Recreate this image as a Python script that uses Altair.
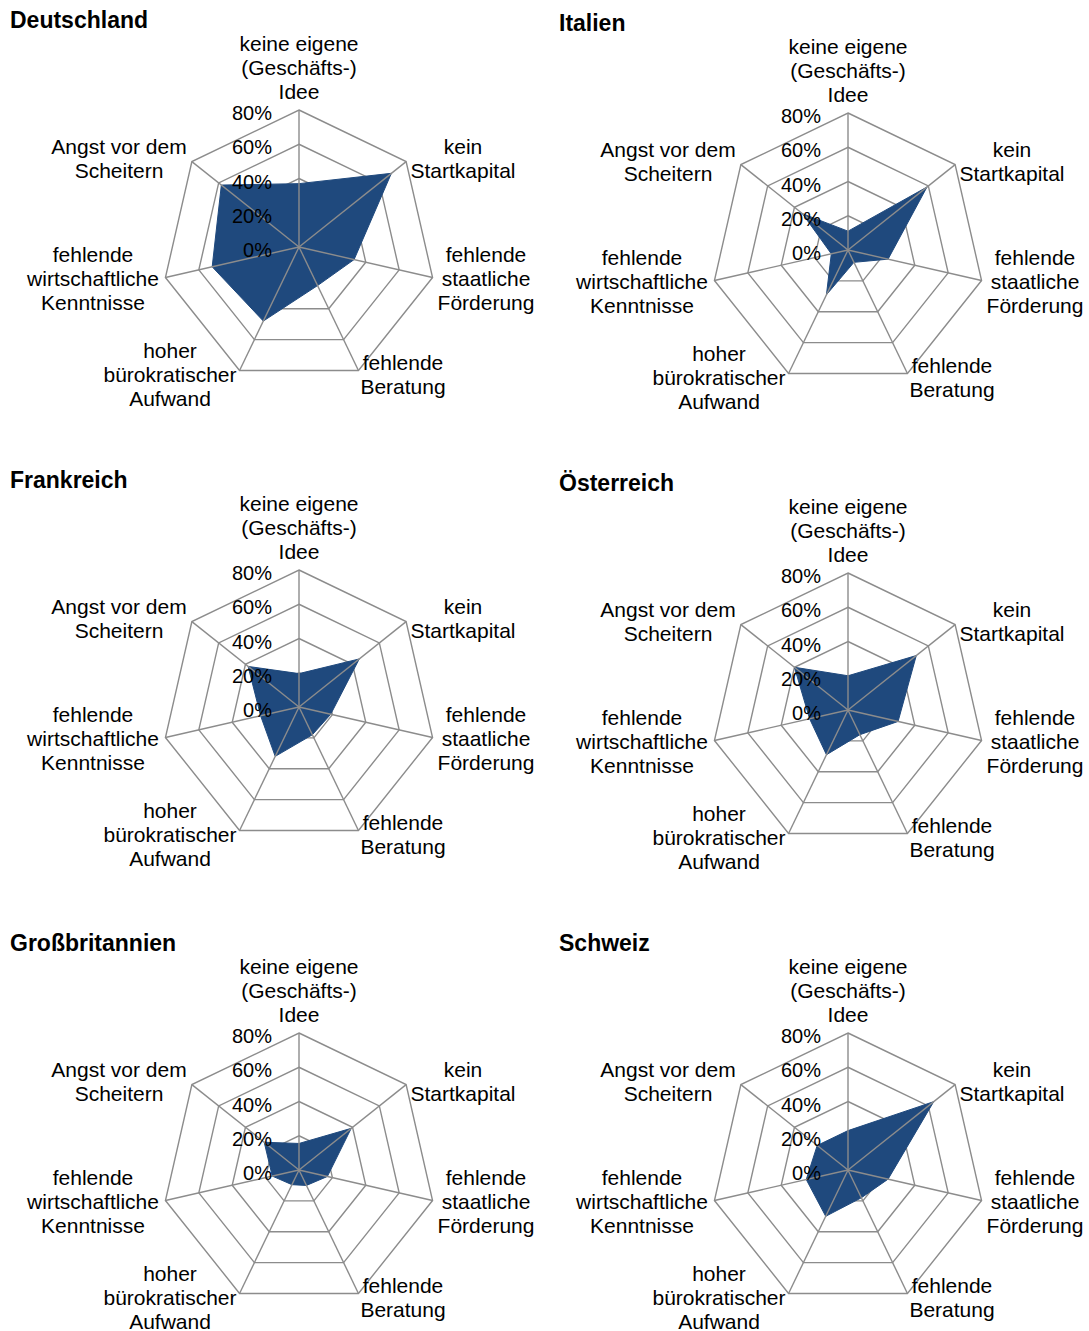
import altair as alt
import pandas as pd

# --- data -------------------------------------------------------------
countries = ["Deutschland", "Italien", "Frankreich", "Österreich", "Großbritannien", "Schweiz"]

categories = [
    "keine eigene\n(Geschäfts-)\nIdee",
    "kein\nStartkapital",
    "fehlende\nstaatliche\nFörderung",
    "fehlende\nBeratung",
    "hoher\nbürokratischer\nAufwand",
    "fehlende\nwirtschaftliche\nKenntnisse",
    "Angst vor dem\nScheitern",
]

# share of respondents (%) per obstacle, in the order of `categories`
deutschland = [37, 69, 33, 25, 48, 52, 58]
italien = [11, 59, 24, 8, 29, 10, 34]
frankreich = [19.5, 45, 19, 18, 32, 23, 38]
oesterreich = [20, 51, 30, 16, 29, 23, 40]
grossbritannien = [15.5, 39, 17, 10, 9.5, 16, 26]
schweiz = [23, 64, 24, 18, 30, 25, 23]

series = [deutschland, italien, frankreich, oesterreich, grossbritannien, schweiz]

ring_levels = [20, 40, 60, 80]
tick_values = [0, 20, 40, 60, 80]
tick_labels = ["0%", "20%", "40%", "60%", "80%"]

# --- layout -----------------------------------------------------------
N = len(categories)
R_MAX = 80
PX = 137 / R_MAX            # pixels per percentage point
LINE_H = 24
COL_W = [549, 539]
ROW_H = [460, 462, 409]
# centre of each radar inside its panel (px)
CENTERS = [(299, 247), (299, 250), (299, 247), (299, 250), (299, 248), (299, 248)]
# centre of each category label block relative to the radar centre (px, y down)
LABEL_OFFSETS = [(0, -178), (164, -87), (187, 33), (104, 129),
                 (-129, 129), (-206, 33), (-180, -87)]

FONT = "Liberation Sans"
BLUE = "#1F497D"
GRID = "#8C8C8C"

ANGLE = f"datum.idx * 2 * PI / {N}"


def radar(name, vals, width, height, cx, cy):
    xs = alt.Scale(domain=[-cx / PX, (width - cx) / PX], nice=False, zero=False)
    ys = alt.Scale(domain=[-(height - cy) / PX, cy / PX], nice=False, zero=False)

    def X(field):
        return alt.X(field, type="quantitative", scale=xs, axis=None)

    def Y(field):
        return alt.Y(field, type="quantitative", scale=ys, axis=None)

    rings = pd.DataFrame(
        [{"ring": lv, "idx": i} for lv in ring_levels for i in range(N)]
    )
    ring_layer = (
        alt.Chart(rings)
        .transform_calculate(
            px=f"datum.ring * sin({ANGLE})", py=f"datum.ring * cos({ANGLE})"
        )
        .mark_line(interpolate="linear-closed", color=GRID, strokeWidth=1.4)
        .encode(x=X("px"), y=Y("py"), detail="ring:N", order="idx:Q")
    )

    poly = pd.DataFrame({"idx": list(range(N)), "value": vals, "country": name})
    area_layer = (
        alt.Chart(poly)
        .transform_calculate(
            px=f"datum.value * sin({ANGLE})", py=f"datum.value * cos({ANGLE})"
        )
        .mark_line(interpolate="linear-closed", fill=BLUE, stroke=BLUE,
                   strokeWidth=1, fillOpacity=1)
        .encode(x=X("px"), y=Y("py"), order="idx:Q")
    )

    spokes = pd.DataFrame({"idx": list(range(N))})
    spoke_layer = (
        alt.Chart(spokes)
        .transform_calculate(
            x0="0", y0="0",
            x1=f"{R_MAX} * sin({ANGLE})", y1=f"{R_MAX} * cos({ANGLE})",
        )
        .mark_rule(color=GRID, strokeWidth=1.4)
        .encode(x=X("x0"), y=Y("y0"), x2="x1:Q", y2="y1:Q")
    )

    ticks = pd.DataFrame({"v": tick_values, "label": tick_labels, "zero": 0})
    tick_layer = (
        alt.Chart(ticks)
        .mark_text(font=FONT, fontSize=20, align="right", baseline="middle",
                   dx=-27, dy=4, color="#000000")
        .encode(x=X("zero"), y=Y("v"), text="label:N")
    )

    # multi-line labels are anchored on their first line
    first_line = []
    for cat, (ox, oy) in zip(categories, LABEL_OFFSETS):
        n = cat.count("\n") + 1
        first_line.append((ox / PX, -(oy - (n - 1) * LINE_H / 2) / PX))
    labels = pd.DataFrame({
        "cat": categories,
        "lx": [p[0] for p in first_line],
        "ly": [p[1] for p in first_line],
    })
    label_layer = (
        alt.Chart(labels)
        .mark_text(font=FONT, fontSize=21, align="center", baseline="middle",
                   lineBreak="\n", lineHeight=LINE_H, color="#000000")
        .encode(x=X("lx"), y=Y("ly"), text="cat:N")
    )

    title_layer = (
        alt.Chart(pd.DataFrame({"t": [name]}))
        .mark_text(font=FONT, fontSize=23, fontWeight="bold", align="left",
                   baseline="middle", color="#000000")
        .encode(x=alt.value(10), y=alt.value(cy - 226), text="t:N")
    )

    return alt.layer(
        ring_layer, area_layer, spoke_layer, tick_layer, label_layer, title_layer
    ).properties(width=width, height=height)


rows = []
for r in range(3):
    panels = []
    for c in range(2):
        k = r * 2 + c
        cx, cy = CENTERS[k]
        panels.append(radar(countries[k], series[k], COL_W[c], ROW_H[r], cx, cy))
    rows.append(alt.hconcat(*panels, spacing=0))

chart = (
    alt.vconcat(*rows, spacing=0)
    .properties(padding=0, background="white")
    .configure_view(stroke=None)
)

chart.save("out.html", embed_options={"renderer": "svg", "actions": False})
